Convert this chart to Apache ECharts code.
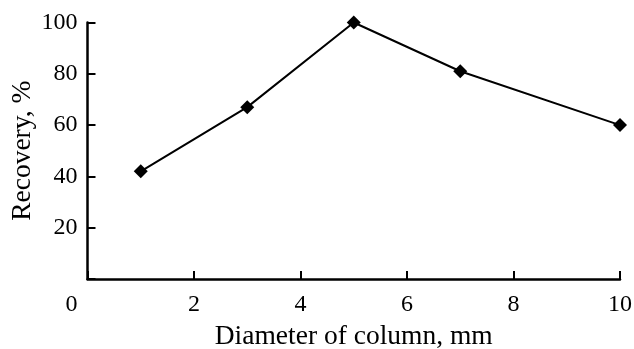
<!DOCTYPE html>
<html>
<head>
<meta charset="utf-8">
<script src="https://cdn.jsdelivr.net/npm/echarts@6/dist/echarts.min.js"></script>
<style>
html,body{margin:0;padding:0;background:#fff;}
#c{width:634px;height:349px;}
</style>
</head>
<body>
<div id="c"></div>
<script>
const diameters = [1, 3, 5, 7, 10];
const recovery = [42, 67, 100, 81, 60];
const xName = 'Diameter of column, mm';
const yName = 'Recovery, %';

const font = 'Liberation Serif, Times New Roman, serif';
const chart = echarts.init(document.getElementById('c'), null, {renderer: 'canvas'});
chart.setOption({
  animation: false,
  backgroundColor: '#fff',
  grid: {left: 87.5, right: 14, top: 22.5, bottom: 70, containLabel: false, outerBoundsMode: 'none'},
  xAxis: {
    type: 'value', min: 0, max: 10, interval: 2,
    name: xName, nameLocation: 'middle', nameGap: 44, nameMoveOverlap: false,
    nameTextStyle: {fontFamily: font, fontSize: 27.5, color: '#000'},
    axisLine: {lineStyle: {color: '#000', width: 2.5}},
    axisTick: {inside: true, length: 8, lineStyle: {color: '#000', width: 2}},
    axisLabel: {
      fontFamily: font, fontSize: 24, color: '#000', margin: 14,
      formatter: v => v === 0 ? '{z|0}' : String(v),
      rich: {z: {fontFamily: font, fontSize: 24, color: '#000', padding: [0, 32, 0, 0]}}
    },
    splitLine: {show: false}
  },
  yAxis: {
    type: 'value', min: 0, max: 100, interval: 20,
    name: yName, nameLocation: 'middle', nameGap: 51, nameRotate: 90, nameMoveOverlap: false,
    nameTextStyle: {fontFamily: font, fontSize: 27.5, color: '#000'},
    axisLine: {lineStyle: {color: '#000', width: 2.5}},
    axisTick: {inside: true, length: 8, lineStyle: {color: '#000', width: 2}},
    axisLabel: {
      fontFamily: font, fontSize: 24, color: '#000', margin: 10,
      formatter: v => v === 0 ? '' : String(v)
    },
    splitLine: {show: false}
  },
  series: [{
    type: 'line',
    data: diameters.map((d, i) => [d, recovery[i]]),
    symbol: 'diamond', symbolSize: 14,
    itemStyle: {color: '#000'},
    lineStyle: {color: '#000', width: 2}
  }]
});
</script>
</body>
</html>
